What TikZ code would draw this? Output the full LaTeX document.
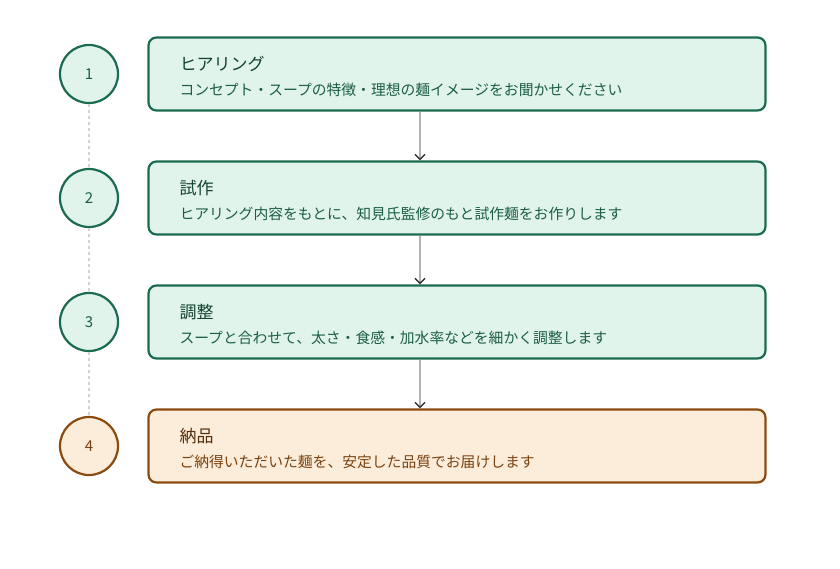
\documentclass[tikz,border=0pt]{standalone}
\usepackage{fontspec}
\setmainfont{Noto Sans CJK JP}
\usetikzlibrary{positioning, arrows.meta}
\definecolor{grline}{HTML}{1B6B50}
\definecolor{grfill}{HTML}{E1F4EC}
\definecolor{grtext}{HTML}{1B5E45}
\definecolor{brline}{HTML}{8A4B10}
\definecolor{brfill}{HTML}{FBEDDA}
\definecolor{brtext}{HTML}{7A4210}
\tikzset{
  stepnum/.style={circle, draw=grline, fill=grfill, line width=2.2pt, minimum size=58pt, inner sep=0pt, font=\fontsize{15}{17}\selectfont, text=grtext},
  stepbox/.style={rounded corners=8pt, draw=grline, fill=grfill, line width=2.2pt, minimum width=617pt, minimum height=73pt},
  title/.style={anchor=west, font=\fontsize{17}{19}\selectfont, text=grtext!70!black},
  desc/.style={anchor=west, font=\fontsize{14.8}{17}\selectfont, text=grtext},
  flow/.style={-{Straight Barb[length=5pt,width=10pt,color=black!80]}, draw=gray!60, line width=1.5pt}
}
\begin{document}
\begin{tikzpicture}[x=1pt, y=-1pt]
			\useasboundingbox (0,0) rectangle (840,568);
			\node (n1)[stepnum] at (89, 74) {1};
			\node (n2)[stepnum] at (89, 198) {2};
			\node (n3)[stepnum] at (89, 322) {3};
			\node (n4)[stepnum, draw=brline, fill=brfill, text=brtext] at (89, 446) {4};

			\node (b1)[stepbox] at (457, 74) {};
			\node (b2)[stepbox] at (457, 198) {};
			\node (b3)[stepbox] at (457, 322) {};
			\node (b4)[stepbox, draw=brline, fill=brfill] at (457, 446) {};

			\node (t1)[title] at (176, 64) {ヒアリング};
			\node (d1)[desc] at (176, 90) {コンセプト・スープの特徴・理想の麺イメージをお聞かせください};
			\node (t2)[title] at (176, 188) {試作};
			\node (d2)[desc] at (176, 214) {ヒアリング内容をもとに、知見氏監修のもと試作麺をお作りします};
			\node (t3)[title] at (176, 312) {調整};
			\node (d3)[desc] at (176, 338) {スープと合わせて、太さ・食感・加水率などを細かく調整します};
			\node (t4)[title, text=brtext!70!black] at (176, 436) {納品};
			\node (d4)[desc, text=brtext] at (176, 462) {ご納得いただいた麺を、安定した品質でお届けします};

			\draw[gray!35, dashed, line width=1.2pt] (n1) -- (n2);
			\draw[gray!35, dashed, line width=1.2pt] (n2) -- (n3);
			\draw[gray!35, dashed, line width=1.2pt] (n3) -- (n4);

			\draw[flow] (b1.south -| 420,0) -- (b2.north -| 420,0);
			\draw[flow] (b2.south -| 420,0) -- (b3.north -| 420,0);
			\draw[flow] (b3.south -| 420,0) -- (b4.north -| 420,0);
		\end{tikzpicture}
\end{document}
